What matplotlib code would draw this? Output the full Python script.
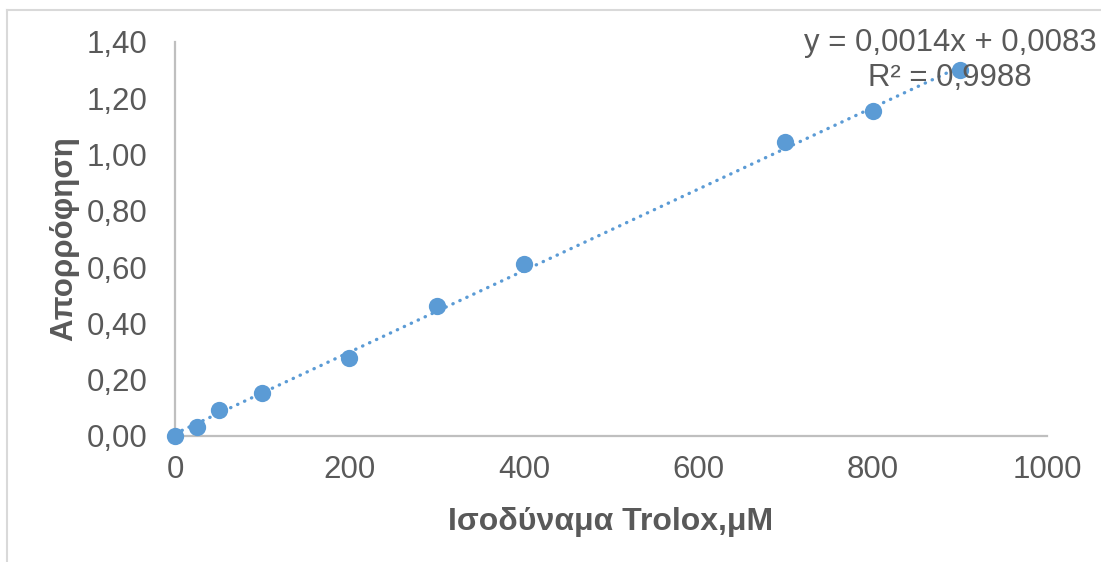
import matplotlib.pyplot as plt
from matplotlib.lines import Line2D
import numpy as np

plt.rcParams['font.family'] = ['Liberation Sans', 'DejaVu Sans']

# Trolox standard curve
trolox_um = [0, 25, 50, 100, 200, 300, 400, 700, 800, 900]
absorbance = [0.0, 0.032, 0.092, 0.153, 0.277, 0.462, 0.611, 1.045, 1.153, 1.300]

# linear fit coefficients (label shows them rounded to 4 decimals)
slope = 0.001448
intercept = 0.0083
r_squared = 0.9988

x_ticks = [0, 200, 400, 600, 800, 1000]
y_ticks = [0.0, 0.2, 0.4, 0.6, 0.8, 1.0, 1.2, 1.4]

text_grey = '#595959'
axis_grey = '#BFBFBF'
blue = '#5B9BD5'

fig = plt.figure(figsize=(11.01, 5.62), dpi=100)
ax = fig.add_axes([0.159, 0.2242, 0.792, 0.7011])

# chart area border
fig.add_artist(Line2D([7 / 1101, 7 / 1101], [0, 1 - 10 / 562], transform=fig.transFigure,
                      color='#D9D9D9', lw=1.5))
fig.add_artist(Line2D([7 / 1101, 1], [1 - 10 / 562, 1 - 10 / 562], transform=fig.transFigure,
                      color='#D9D9D9', lw=1.5))

# linear trendline
fit_x = np.array([min(trolox_um), max(trolox_um)])
ax.plot(fit_x, slope * fit_x + intercept, linestyle=(0, (0.1, 2.2)), dash_capstyle='round',
        color=blue, lw=2.4, zorder=2, clip_on=False)
ax.scatter(trolox_um, absorbance, s=155, color=blue, zorder=3, linewidths=0, clip_on=False)

ax.set_xlim(0, 1000)
ax.set_ylim(0, 1.4)
ax.set_xticks(x_ticks)
ax.set_yticks(y_ticks)
ax.set_yticklabels([f'{v:.2f}'.replace('.', ',') for v in y_ticks])
ax.tick_params(axis='both', length=0, labelsize=22.5, colors=text_grey)
ax.tick_params(axis='y', pad=20)
ax.tick_params(axis='x', pad=14)

for side in ['top', 'right']:
    ax.spines[side].set_visible(False)
for side in ['left', 'bottom']:
    ax.spines[side].set_color(axis_grey)
    ax.spines[side].set_linewidth(1.6)

ax.set_xlabel('Ισοδύναμα Trolox,μM', fontsize=23, fontweight='bold', color=text_grey)
ax.set_ylabel('Απορρόφηση', fontsize=22.5, fontweight='bold', color=text_grey)
ax.xaxis.set_label_coords(0.5, -0.18)
ax.yaxis.set_label_coords(-0.110, 0.5)

eq_text = f'y = {slope:.4f}x + {intercept:.4f}'.replace('.', ',')
r2_text = f'R² = {r_squared:.4f}'.replace('.', ',')
fig.text(950 / 1101, 1 - 43 / 562, eq_text, ha='center', va='center', fontsize=22.4, color=text_grey)
fig.text(950 / 1101, 1 - 78 / 562, r2_text, ha='center', va='center', fontsize=22.4, color=text_grey)

fig.savefig('out.png', dpi=100)
